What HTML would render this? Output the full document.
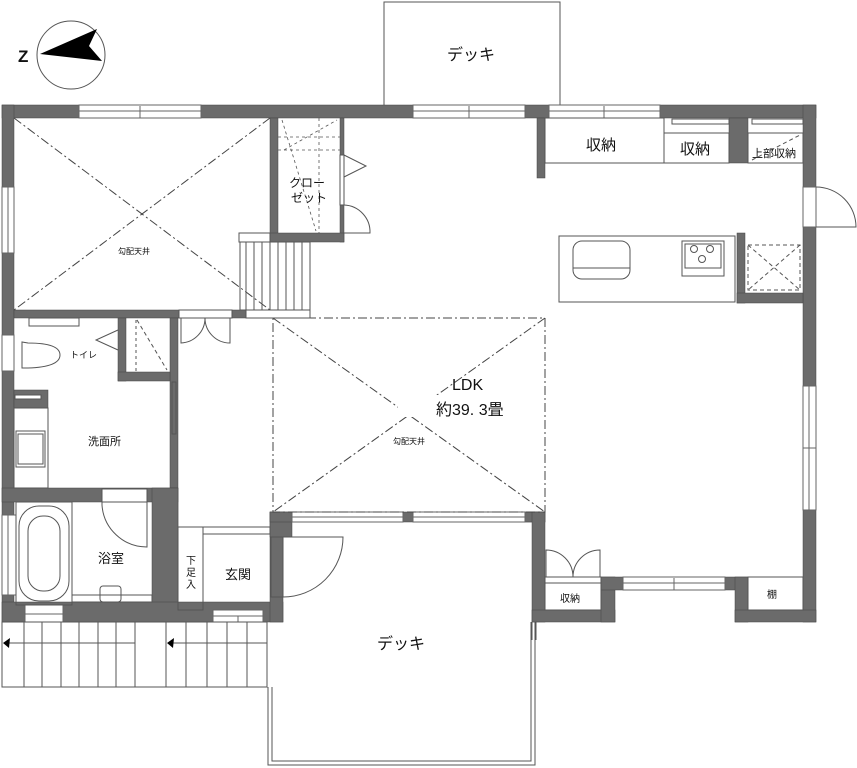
<!DOCTYPE html>
<html><head><meta charset="utf-8"><style>
html,body{margin:0;padding:0;background:#fff;}
svg{display:block;}
text{font-family:"Liberation Sans","Noto Sans CJK JP",sans-serif;fill:#111;}
</style></head><body>
<svg width="857" height="768" viewBox="0 0 857 768" xmlns="http://www.w3.org/2000/svg">
<g fill="none" stroke="#555" stroke-width="1">
<polyline points="384,105 384,2 560,2 560,105"/>
<polyline points="268,687 268,765 535,765 535,622"/>
<polyline points="272,687 272,761 531,761 531,622"/>
</g>
<circle cx="71" cy="55" r="34" fill="none" stroke="#555" stroke-width="1"/>
<polygon points="40,54 97,29 89,46 102,61" fill="#000"/>
<text x="18" y="62" font-size="17" font-weight="bold">Z</text>

<g fill="#6b6b6b" stroke="#444" stroke-width="0.5">
<rect x="2" y="105" width="814" height="13"/>
<rect x="2" y="105" width="12" height="517"/>
<rect x="803" y="105" width="13" height="517"/>
<rect x="270" y="118" width="8" height="124"/>
<rect x="340" y="118" width="4" height="124"/>
<rect x="270" y="233" width="74" height="9"/>
<rect x="537" y="118" width="8" height="60"/>
<rect x="729" y="118" width="19" height="45"/>
<rect x="14" y="310" width="165" height="8"/>
<rect x="232" y="310" width="14" height="8"/>
<rect x="170" y="318" width="8" height="304"/>
<rect x="118" y="318" width="8" height="63"/>
<rect x="118" y="372" width="52" height="9"/>
<rect x="14" y="390" width="34" height="18"/>
<rect x="2" y="488" width="176" height="14"/>
<rect x="152" y="488" width="26" height="134"/>
<rect x="2" y="602" width="281" height="20"/>
<rect x="270" y="512" width="13" height="110"/>
<rect x="270" y="512" width="22" height="25"/>
<rect x="270" y="512" width="275" height="10"/>
<rect x="525" y="512" width="20" height="10"/>
<rect x="532" y="512" width="13" height="110"/>
<rect x="532" y="610" width="83" height="12"/>
<rect x="601" y="577" width="14" height="45"/>
<rect x="601" y="577" width="22" height="13"/>
<rect x="725" y="577" width="23" height="13"/>
<rect x="735" y="577" width="13" height="45"/>
<rect x="735" y="610" width="81" height="12"/>
<rect x="737" y="233" width="8" height="70"/>
<rect x="737" y="293" width="66" height="10"/>
</g>

<g fill="#fff" stroke="#666" stroke-width="1">
<rect x="79" y="105" width="122" height="13"/>
<rect x="413" y="105" width="112" height="13"/>
<rect x="549" y="105" width="111" height="13"/>
<rect x="2" y="187" width="12" height="66"/>
<rect x="2" y="335" width="12" height="36"/>
<rect x="2" y="515" width="14" height="80"/>
<rect x="25" y="605" width="38" height="17"/>
<rect x="213" y="610" width="50" height="12"/>
<rect x="292" y="512" width="111" height="10"/>
<rect x="413" y="512" width="112" height="10"/>
<rect x="623" y="577" width="102" height="13"/>
<rect x="803" y="386" width="13" height="124"/>
<rect x="803" y="187" width="13" height="40"/>
<rect x="672" y="119" width="57" height="5" stroke="#555"/>
<rect x="752" y="119" width="51" height="5" stroke="#555"/>
<rect x="15" y="395" width="26" height="4" stroke="#555"/>
</g>
<g stroke="#666" stroke-width="1" fill="none">
<line x1="79" y1="111" x2="201" y2="111"/><line x1="140" y1="106" x2="140" y2="118"/>
<line x1="413" y1="111" x2="525" y2="111"/><line x1="469" y1="106" x2="469" y2="118"/>
<line x1="549" y1="111" x2="660" y2="111"/><line x1="604" y1="106" x2="604" y2="118"/>
<line x1="8" y1="187" x2="8" y2="253"/><line x1="8" y1="515" x2="8" y2="595"/>
<line x1="292" y1="517" x2="403" y2="517"/><line x1="413" y1="517" x2="525" y2="517"/>
<line x1="623" y1="583" x2="725" y2="583"/><line x1="674" y1="578" x2="674" y2="590"/>
<line x1="809" y1="386" x2="809" y2="510"/><line x1="803" y1="448" x2="816" y2="448"/>
<line x1="238" y1="616" x2="238" y2="622"/><line x1="213" y1="616" x2="263" y2="616"/>
<line x1="25" y1="614" x2="63" y2="614"/>
</g>

<g stroke="#444" stroke-width="1" fill="none" stroke-dasharray="9,3,2,3">
<line x1="14" y1="118" x2="270" y2="310"/>
<line x1="270" y1="118" x2="14" y2="310"/>
<rect x="273" y="318" width="272" height="194"/>
<line x1="273" y1="318" x2="545" y2="512"/>
<line x1="545" y1="318" x2="273" y2="512"/>
</g>
<rect x="398" y="395" width="120" height="22" fill="#fff"/>
<text x="452" y="390" font-size="16">LDK</text>
<text x="436" y="415" font-size="16">約39. 3畳</text>
<text x="393" y="444" font-size="8">勾配天井</text>
<text x="118" y="254" font-size="8">勾配天井</text>

<g stroke="#555" stroke-width="0.8" fill="none" stroke-dasharray="3,3">
<line x1="278" y1="137" x2="340" y2="137"/><line x1="278" y1="150" x2="340" y2="150"/>
<line x1="319" y1="118" x2="319" y2="233"/>
<line x1="282" y1="120" x2="316" y2="231"/>
<line x1="284" y1="150" x2="337" y2="120"/>
</g>
<g stroke="#555" stroke-width="1" fill="none">
<rect x="340" y="155" width="4" height="50" fill="#fff"/>
<polyline points="344,155 366,166 344,177"/>
<path d="M344,205 A27,27 0 0 1 370,233 L344,233"/>
<rect x="239" y="233" width="31" height="9"/>
<rect x="240" y="242" width="70" height="68"/>
<line x1="246" y1="242" x2="246" y2="310"/><line x1="254" y1="242" x2="254" y2="310"/>
<line x1="262" y1="242" x2="262" y2="310"/><line x1="270" y1="242" x2="270" y2="310"/>
<line x1="278" y1="242" x2="278" y2="310"/><line x1="286" y1="242" x2="286" y2="310"/>
<line x1="294" y1="242" x2="294" y2="310"/><line x1="302" y1="242" x2="302" y2="310"/>
<rect x="246" y="310" width="64" height="8"/>
<rect x="179" y="310" width="53" height="8"/>
<path d="M181,318 L181,343 A25,25 0 0 0 205,318 A25,25 0 0 0 230,343 L230,318"/>
<rect x="29" y="318" width="50" height="8"/>
<path d="M22,342 L22,368 L28,368 Q60,367 60,355 Q60,343 28,343 Z"/>
<polyline points="118,330 96,340 118,350"/>
<line x1="136" y1="320" x2="136" y2="372" stroke-dasharray="3,3"/>
<line x1="137" y1="320" x2="167" y2="370" stroke-dasharray="4,3"/>
<rect x="172" y="382" width="4" height="52"/>
<rect x="14" y="408" width="34" height="80"/>
<rect x="16" y="431" width="29" height="36"/>
<rect x="18" y="434" width="25" height="30"/>
<rect x="102" y="489" width="45" height="13" fill="#fff"/>
<path d="M102,502 L102,505 A45,45 0 0 0 147,547 L147,502"/>
<rect x="16" y="502" width="56" height="103"/>
<rect x="19" y="506" width="50" height="95" rx="20"/>
<rect x="28" y="516" width="32" height="75" rx="15"/>
<rect x="72" y="595" width="80" height="7"/>
<rect x="100" y="586" width="21" height="16" rx="3"/>
<rect x="178" y="527" width="25" height="83"/>
<rect x="203" y="527" width="67" height="7"/>
<path d="M283,537 L343,537 A60,60 0 0 1 283,597"/>
<rect x="271" y="537" width="12" height="60"/>
<rect x="545" y="118" width="119" height="45"/>
<rect x="664" y="133" width="65" height="30"/>
<rect x="748" y="133" width="55" height="30"/>
<line x1="752" y1="160" x2="800" y2="135" stroke-dasharray="4,3"/>
<path d="M816,187 A40,40 0 0 1 856,227 L816,227"/>
<rect x="559" y="236" width="176" height="66"/>
<rect x="573" y="241" width="57" height="38" rx="9"/>
<line x1="573" y1="268" x2="630" y2="268"/>
<rect x="682" y="241" width="42" height="35"/>
<rect x="685" y="244" width="36" height="24"/>
<circle cx="694" cy="249" r="3.5"/><circle cx="710" cy="249" r="3.5"/><circle cx="702" cy="259" r="3.5"/>
<g stroke-dasharray="4,3"><rect x="748" y="245" width="52" height="45"/>
<line x1="748" y1="245" x2="800" y2="290"/><line x1="800" y1="245" x2="748" y2="290"/></g>
<rect x="545" y="583" width="56" height="27"/>
<rect x="545" y="577" width="56" height="6"/>
<path d="M546,577 L546,550 A27,27 0 0 1 573,577 A27,27 0 0 1 600,550 L600,577"/>
<rect x="748" y="577" width="55" height="33"/>
<line x1="532" y1="622" x2="532" y2="640"/><line x1="536" y1="622" x2="536" y2="640"/>
<rect x="2" y="622" width="265" height="65"/>
<line x1="24" y1="622" x2="24" y2="687"/><line x1="42" y1="622" x2="42" y2="687"/>
<line x1="61" y1="622" x2="61" y2="687"/><line x1="79" y1="622" x2="79" y2="687"/>
<line x1="98" y1="622" x2="98" y2="687"/><line x1="116" y1="622" x2="116" y2="687"/>
<line x1="135" y1="622" x2="135" y2="687"/><line x1="166" y1="622" x2="166" y2="687"/>
<line x1="186" y1="622" x2="186" y2="687"/><line x1="207" y1="622" x2="207" y2="687"/>
<line x1="227" y1="622" x2="227" y2="687"/><line x1="247" y1="622" x2="247" y2="687"/>
<line x1="4" y1="643" x2="135" y2="643"/><line x1="170" y1="643" x2="267" y2="643"/>
</g>
<polygon points="3,643 10,638 9,648" fill="#000"/>
<polygon points="167,643 174,638 173,648" fill="#000"/>

<text x="447" y="60" font-size="16">デッキ</text>
<text x="377" y="649" font-size="16">デッキ</text>
<text x="289" y="187" font-size="12">クロー</text>
<text x="291" y="202" font-size="12">ゼット</text>
<text x="586" y="150" font-size="15">収納</text>
<text x="680" y="154" font-size="15">収納</text>
<text x="752" y="157" font-size="11">上部収納</text>
<text x="70" y="358" font-size="9">トイレ</text>
<text x="88" y="445" font-size="11">洗面所</text>
<text x="98" y="563" font-size="13">浴室</text>
<text x="225" y="579" font-size="13">玄関</text>
<text x="186" y="564" font-size="10">下</text>
<text x="186" y="576" font-size="10">足</text>
<text x="186" y="588" font-size="10">入</text>
<text x="560" y="602" font-size="10">収納</text>
<text x="767" y="598" font-size="10">棚</text>
</svg>
</body></html>
